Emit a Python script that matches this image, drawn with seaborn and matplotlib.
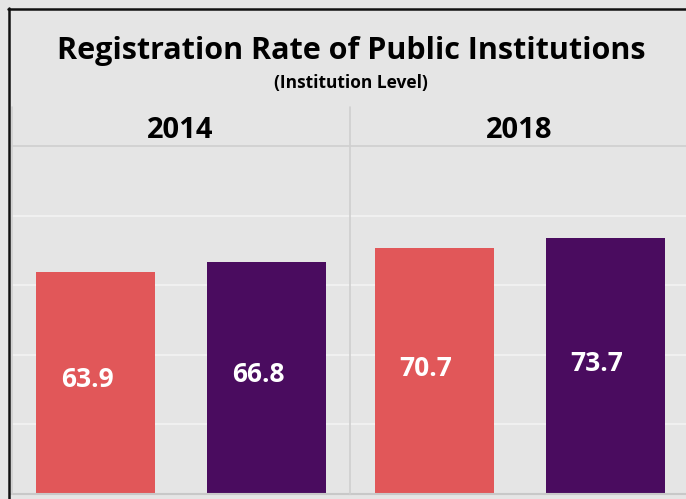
import matplotlib
matplotlib.use("Agg")
import matplotlib.pyplot as plt
import pandas as pd
import seaborn as sns
from matplotlib.lines import Line2D

# data
years = ["2014", "2018"]
groups = ["Group 1", "Group 2"]
rates_2014 = [63.9, 66.8]
rates_2018 = [70.7, 73.7]
colors = ["#e15759", "#4a0c5f"]

df = pd.DataFrame({
    "Year": [y for y in years for _ in groups],
    "Group": groups * 2,
    "Rate": rates_2014 + rates_2018,
})

BG = "#e5e5e5"
sns.set_theme(style="white")
plt.rcParams["font.family"] = ["Open Sans", "DejaVu Sans"]

W, H = 686, 499
fig = plt.figure(figsize=(W / 100, H / 100), dpi=100, facecolor=BG)


def box(x0, y0, x1, y1):
    # pixel box -> figure fraction
    return [x0 / W, 1 - y1 / H, (x1 - x0) / W, (y1 - y0) / H]


def fline(xs, ys, **kw):
    fig.add_artist(Line2D([x / W for x in xs], [1 - y / H for y in ys],
                          transform=fig.transFigure, **kw))


panels = [(11, 350), (350, 689)]
for (x0, x1), year in zip(panels, years):
    ax = fig.add_axes(box(x0, 146, x1, 494))
    ax.set_facecolor(BG)
    sub = df[df["Year"] == year].reset_index(drop=True)
    sns.barplot(data=sub, x="Group", y="Rate", hue="Group", palette=colors,
                width=0.7, saturation=1, linewidth=0, legend=False, ax=ax)
    ax.set_ylim(0, 100)
    ax.set_xlim(-0.494, 1.488)
    ax.set_yticks([20, 40, 60, 80])
    ax.grid(axis="y", color="#f2f2f2", lw=1.3)
    ax.set_axisbelow(True)
    ax.tick_params(left=False, bottom=False, labelleft=False, labelbottom=False)
    ax.set_xlabel("")
    ax.set_ylabel("")
    for s in ["top", "right", "left"]:
        ax.spines[s].set_visible(False)
    ax.spines["bottom"].set_color("#c8c8c8")
    ax.spines["bottom"].set_linewidth(1.5)
    for i, v in enumerate(sub["Rate"]):
        ax.text(i - 0.05, v * 0.48, f"{v:.1f}", color="white", fontsize=19,
                fontweight="bold", ha="center", va="baseline")
    fig.text((x0 + x1) / 2 / W, 1 - 138 / H, year, fontsize=21,
             fontweight="bold", ha="center", va="baseline", color="black")

# panel separators and header rule
fline([11, 686], [146, 146], color="#cfcfcf", lw=1.2)
fline([350, 350], [107, 494], color="#cfcfcf", lw=1.2)
fline([11.5, 11.5], [107, 494], color="#cfcfcf", lw=1.2)

# dark frame on top and left
fline([8.5, 8.5], [8, 499], color="#111111", lw=1.8)
fline([8, 686], [8.5, 8.5], color="#111111", lw=1.8)

fig.text(351 / W, 1 - 59 / H, "Registration Rate of Public Institutions",
         fontsize=22, fontweight="bold", ha="center", va="baseline", color="black")
fig.text(351 / W, 1 - 88 / H, "(Institution Level)", fontsize=12.5,
         fontweight="bold", ha="center", va="baseline", color="black")

fig.savefig("out.png", dpi=100, facecolor=BG)
